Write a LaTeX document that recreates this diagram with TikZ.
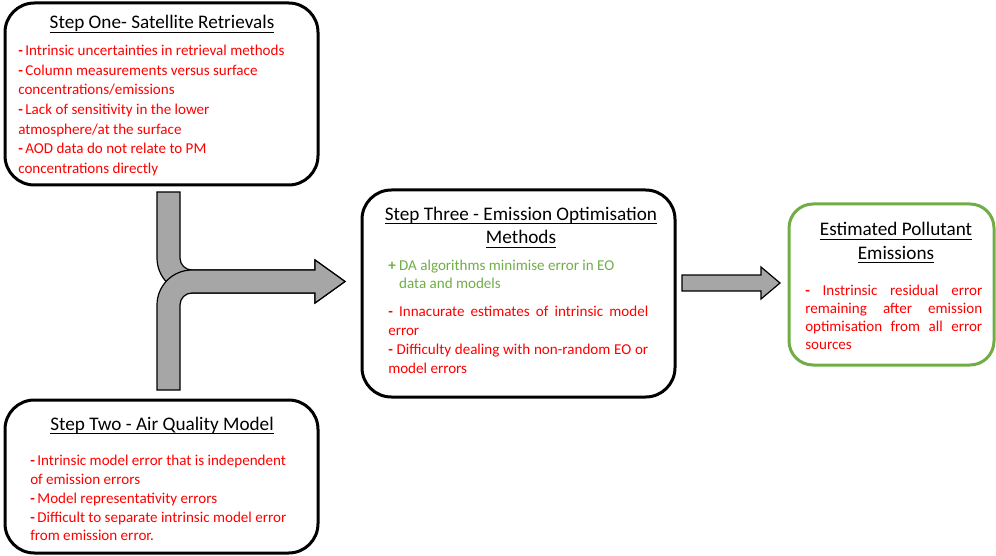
\documentclass[tikz,border=0pt]{standalone}
\usepackage{fontspec}
\setmainfont{Carlito}
\usepackage[HTML]{xcolor}
\usepackage{tikz}
\usetikzlibrary{positioning}
\definecolor{errred}{HTML}{FF0000}
\definecolor{okgreen}{HTML}{70AD47}
\definecolor{arrowgray}{HTML}{A6A6A6}
\newcommand{\stepuline}[1]{\setbox0\hbox{#1}\rlap{\rule[-3pt]{\wd0}{0.75pt}}\box0}
\newcommand{\fillline}[2]{\makebox[#1][s]{#2}}

\begin{document}
\begin{tikzpicture}[x=0.75pt, y=-0.75pt,
  stepbox/.style={draw, line width=2.25pt, rounded corners=22pt, minimum width=234.75pt, inner sep=0},
  steptitle/.style={font=\fontsize{14.4}{17.6}\selectfont, align=center, inner sep=0, anchor=north},
  errtext/.style={font=\fontsize{11.3}{14.3}\selectfont, text=errred, align=left, inner sep=0, anchor=north west},
  blockarrow/.style={fill=arrowgray, draw=black, line width=0.9pt, line join=miter}]
\useasboundingbox (0,0) rectangle (996,556);
% the four boxes
\node[stepbox, minimum height=136.5pt] (one) at (161.5,94) {};
\node[stepbox, minimum height=114.75pt] (two) at (161.5,476.5) {};
\node[stepbox, minimum height=155.25pt] (three) at (518.5,293.5) {};
\node[stepbox, draw=okgreen, rounded corners=18pt, minimum width=153.75pt, minimum height=120.75pt] (est) at (891.5,284.5) {};
% step one
\node[steptitle] (onetitle) at (162,12) {\strut\stepuline{Step One- Satellite Retrievals}};
\node[errtext, font=\fontsize{11.3}{14.7}\selectfont] (onetext) at (18,41.8) {\strut\textbf{-}\,Intrinsic uncertainties in retrieval methods\\
\textbf{-}\,Column measurements versus surface\\
concentrations/emissions\\
\textbf{-}\,Lack of sensitivity in the lower\\
atmosphere/at the surface\\
\textbf{-}\,AOD data do not relate to PM\\
concentrations directly};
% step two
\node[steptitle] (twotitle) at (162,413.6) {\strut\stepuline{Step Two - Air Quality Model}};
\node[errtext, font=\fontsize{11.3}{14.2}\selectfont] (twotext) at (30,451.7) {\strut\textbf{-}\,Intrinsic model error that is independent\\
of emission errors\\
\textbf{-}\,Model representativity errors\\
\textbf{-}\,Difficult to separate intrinsic model error\\
from emission error.};
% step three
\node[steptitle] (threetitle) at (521,203.6) {\strut\stepuline{Step Three - Emission Optimisation}\\ \stepuline{Methods}};
\node[errtext, text=okgreen, font=\fontsize{11.3}{13.5}\selectfont] (threeplus) at (388,257.4) {\strut\textbf{+} DA algorithms minimise error in EO\\
\phantom{\textbf{+} }data and models};
\node[errtext, font=\fontsize{11.3}{14.1}\selectfont] (threeminus) at (388,303.4) {\strut\fillline{195pt}{\textbf{-} Innacurate estimates of intrinsic model}\\
error\\
\fillline{195pt}{\textbf{-} Difficulty dealing with non-random EO or}\\
model errors};
% estimated emissions
\node[steptitle] (esttitle) at (896,219.3) {\strut\stepuline{Estimated Pollutant}\\ \stepuline{Emissions}};
\node[errtext, font=\fontsize{11.3}{13.65}\selectfont] (esttext) at (805,282.3) {\strut\fillline{132.75pt}{\textbf{-} Instrinsic residual error}\\
\fillline{132.75pt}{remaining after emission}\\
\fillline{132.75pt}{optimisation from all error}\\
sources};
% block arrows
\draw[blockarrow] (157,192) -- (157,258) arc[start angle=180, end angle=90, radius=35] -- (315,293) -- (315,303) -- (345,281.5) -- (315,260) -- (315,270) -- (192,270) arc[start angle=90, end angle=180, radius=12] -- (180,192) -- cycle;
\draw[blockarrow] (157,390) -- (157,305) arc[start angle=180, end angle=270, radius=35] -- (315,270) -- (315,260) -- (345,281.5) -- (315,303) -- (315,293) -- (192,293) arc[start angle=270, end angle=180, radius=12] -- (180,390) -- cycle;
\draw[blockarrow] (682,275) -- (761,275) -- (761,267) -- (780,283) -- (761,299) -- (761,291) -- (682,291) -- cycle;
\end{tikzpicture}
\end{document}
